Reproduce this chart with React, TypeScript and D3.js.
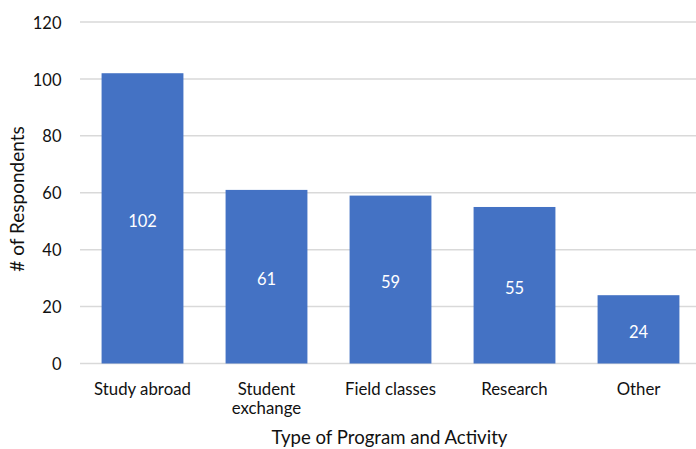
import React from "react";
import * as d3 from "d3";

const categories: string[][] = [
  ["Study abroad"],
  ["Student", "exchange"],
  ["Field classes"],
  ["Research"],
  ["Other"],
];
const values: number[] = [102, 61, 59, 55, 24];
const yTicks: number[] = [0, 20, 40, 60, 80, 100, 120];

const W = 696;
const H = 449;
const FONT = "Lato, 'Open Sans', sans-serif";
const INK = "#111111";

export default function App() {
  const keys = categories.map((c) => c.join(" "));
  const x = d3
    .scaleBand<string>()
    .domain(keys)
    .range([80.5, 700.5])
    .paddingInner(0.34)
    .paddingOuter(0.17);
  const y = d3.scaleLinear().domain([0, 120]).range([363.5, 22]);

  return (
    <svg
      width={W}
      height={H}
      style={{ position: "absolute", left: 0, top: 0, background: "#fff" }}
      fontFamily={FONT}
    >
      {yTicks.map((t) => (
        <g key={t}>
          <line
            x1={80}
            x2={W}
            y1={y(t)}
            y2={y(t)}
            stroke="#d9d9d9"
            strokeWidth={1.5}
          />
          <text
            x={61.5}
            y={y(t)}
            dy="0.4em"
            textAnchor="end"
            fontSize={16.5}
            fill={INK}
          >
            {t}
          </text>
        </g>
      ))}
      {keys.map((k, i) => {
        const bx = x(k)!;
        const bw = x.bandwidth();
        const top = y(values[i]);
        return (
          <g key={k}>
            <rect x={bx} y={top} width={bw} height={y(0) - top} fill="#4472C4" />
            <text
              x={bx + bw / 2}
              y={(top + y(0)) / 2 + 2.5}
              dy="0.35em"
              textAnchor="middle"
              fontSize={16.5}
              fill="#ffffff"
            >
              {values[i]}
            </text>
            {categories[i].map((line, j) => (
              <text
                key={j}
                x={bx + bw / 2}
                y={394.5 + j * 19.5}
                textAnchor="middle"
                fontSize={16.8}
                fill={INK}
              >
                {line}
              </text>
            ))}
          </g>
        );
      })}
      <text
        x={389.5}
        y={444}
        textAnchor="middle"
        fontSize={18.6}
        fill={INK}
      >
        Type of Program and Activity
      </text>
      <text
        transform={`translate(24, 199) rotate(-90)`}
        textAnchor="middle"
        fontSize={19}
        fill={INK}
      >
        # of Respondents
      </text>
    </svg>
  );
}
